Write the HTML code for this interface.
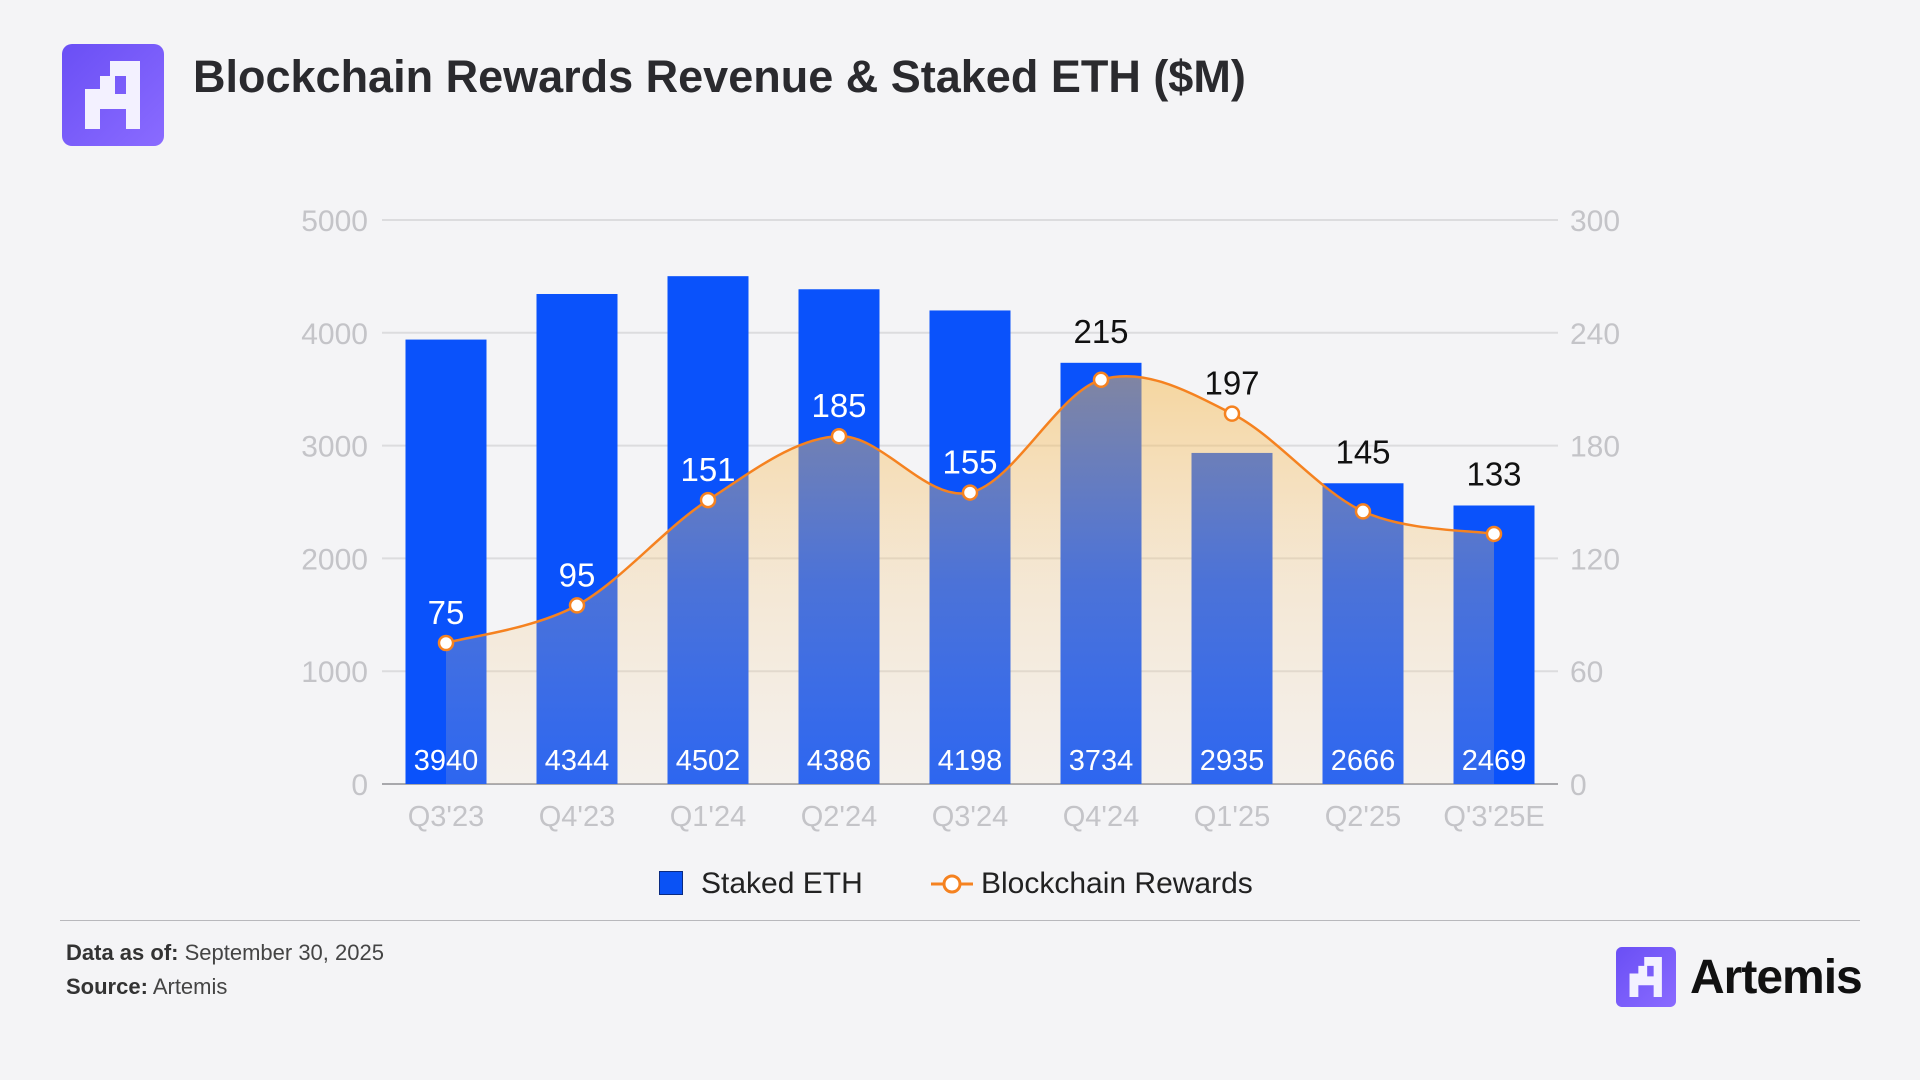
<!DOCTYPE html>
<html><head><meta charset="utf-8"><style>
html,body{margin:0;padding:0;background:#f4f4f6;}
body{width:1920px;height:1080px;position:relative;overflow:hidden;font-family:"Liberation Sans",sans-serif;}
.t{position:absolute;}
</style></head><body>
<svg class="t" style="left:62px;top:44px" width="102" height="102" viewBox="0 0 102 102">
<defs><linearGradient id="lg" x1="0" y1="0" x2="1" y2="1"><stop offset="0" stop-color="#6a4ff5"/><stop offset="1" stop-color="#8a6bff"/></linearGradient></defs>
<rect width="102" height="102" rx="10" fill="url(#lg)"/>
<path d="M48 17H78V85H64V65H38V85H23V45H38V32H48Z M53 32V50H64V32Z" fill="#f3f1ff" fill-rule="evenodd"/>
</svg>
<div class="t" style="left:193px;top:51px;font-size:45px;font-weight:bold;color:#2a2a2e;letter-spacing:0px">Blockchain Rewards Revenue &amp; Staked ETH ($M)</div>

<svg id="chart" class="t" style="left:0;top:0" width="1920" height="1080"></svg>

<div class="t" style="left:659px;top:867px;font-size:30px;color:#222">
<span style="display:inline-block;width:22px;height:22px;background:#0a52f5;border:1px solid #0a2a80;vertical-align:-2px;margin-right:18px"></span>Staked ETH</div>
<div class="t" style="left:931px;top:867px;font-size:30px;color:#222">
<svg width="42" height="24" style="vertical-align:-3px;margin-right:8px"><line x1="0" y1="12" x2="42" y2="12" stroke="#f58220" stroke-width="3"/><circle cx="21" cy="12" r="8" fill="#fff" stroke="#f58220" stroke-width="3"/></svg>Blockchain Rewards</div>

<div class="t" style="left:60px;top:920px;width:1800px;height:1px;background:#b8b8bc"></div>
<div class="t" style="left:66px;top:940px;font-size:22px;color:#444"><b style="color:#333">Data as of:</b> September 30, 2025</div>
<div class="t" style="left:66px;top:974px;font-size:22px;color:#444"><b style="color:#333">Source:</b> Artemis</div>
<svg class="t" style="left:1616px;top:947px" width="60" height="60" viewBox="0 0 102 102">
<rect width="102" height="102" rx="10" fill="url(#lg)"/>
<path d="M48 17H78V85H64V65H38V85H23V45H38V32H48Z M53 32V50H64V32Z" fill="#f3f1ff" fill-rule="evenodd"/>
</svg>
<div class="t" style="left:1690px;top:950px;font-size:48px;font-weight:bold;color:#111;letter-spacing:-1px">Artemis</div>

<script>
const categories=["Q3'23","Q4'23","Q1'24","Q2'24","Q3'24","Q4'24","Q1'25","Q2'25","Q'3'25E"];
const stakedEth=[3940,4344,4502,4386,4198,3734,2935,2666,2469];
const rewards=[75,95,151,185,155,215,197,145,133];
const leftTicks=[0,1000,2000,3000,4000,5000];
const rightTicks=[0,60,120,180,240,300];

const NS="http://www.w3.org/2000/svg";
const svg=document.getElementById('chart');
const X0=446,DX=131,Y0=784,Y1=220,BW=81;
const xs=i=>X0+i*DX;
const yL=v=>Y0-(v/5000)*(Y0-Y1);
const yR=v=>Y0-(v/300)*(Y0-Y1);
function mk(tag,attrs,parent){const e=document.createElementNS(NS,tag);for(const k in attrs)e.setAttribute(k,attrs[k]);(parent||svg).appendChild(e);return e;}

const defs=mk('defs',{});
const g=mk('linearGradient',{id:'ag',x1:0,y1:0,x2:0,y2:1},defs);
mk('stop',{offset:0,'stop-color':'#f6b84a','stop-opacity':0.5},g);
mk('stop',{offset:0.5,'stop-color':'#f6c67a','stop-opacity':0.28},g);
mk('stop',{offset:1,'stop-color':'#f5d9b0','stop-opacity':0.15},g);

leftTicks.forEach((t,i)=>{
  const y=yL(t);
  const l=mk('line',{x1:382,x2:1558,y1:y,y2:y,stroke:i===0?'#a8a8ac':'#dcdcde','stroke-width':2});
  
  
  const tx=mk('text',{x:368,y:y+11,'text-anchor':'end','font-size':30,fill:'#c4c4c8'});
  tx.textContent=t;
  
  
});
rightTicks.forEach(t=>{
  const tx=mk('text',{x:1570,y:yR(t)+11,'font-size':30,fill:'#c4c4c8'});
  tx.textContent=t;
  
  
});

stakedEth.forEach((v,i)=>{
  const r=mk('rect',{x:xs(i)-BW/2,y:yL(v),width:BW,height:Y0-yL(v),fill:'#0a52fb'});
  
  
  const c=mk('text',{x:xs(i),y:Y0+42,'text-anchor':'middle','font-size':29,fill:'#c4c4c8'});
  c.textContent=categories[i];
  
  
});

const pts=rewards.map((v,i)=>[xs(i),yR(v)]);
let d=`M${pts[0][0]},${pts[0][1]}`;
for(let i=0;i<pts.length-1;i++){
  const p0=pts[i-1]||pts[i],p1=pts[i],p2=pts[i+1],p3=pts[i+2]||p2;
  const c1=[p1[0]+(p2[0]-p0[0])/6,p1[1]+(p2[1]-p0[1])/6];
  const c2=[p2[0]-(p3[0]-p1[0])/6,p2[1]-(p3[1]-p1[1])/6];
  d+=` C${c1[0]},${c1[1]} ${c2[0]},${c2[1]} ${p2[0]},${p2[1]}`;
}
const area=mk('path',{d:d+` L${pts[pts.length-1][0]},${Y0} L${pts[0][0]},${Y0} Z`,fill:'url(#ag)'});


const line=mk('path',{d:d,fill:'none',stroke:'#f58220','stroke-width':2.5});



stakedEth.forEach((v,i)=>{
  const t=mk('text',{x:xs(i),y:Y0-14,'text-anchor':'middle','font-size':29,fill:'#fff'});
  t.textContent=v;
  
  
});
rewards.forEach((v,i)=>{
  const p=mk('circle',{cx:xs(i),cy:yR(v),r:7,fill:'#fff',stroke:'#f58220','stroke-width':2.5});
  
  
  let ly=yR(v)-19;
  const top=yL(stakedEth[i]);
  const inside=ly-20>top;
  if(!inside) ly=Math.min(ly,top-20);
  const t=mk('text',{x:xs(i),y:ly,'text-anchor':'middle','font-size':33,fill:inside?'#fff':'#111'});
  t.textContent=v;
  
  
});
</script>
</body></html>
